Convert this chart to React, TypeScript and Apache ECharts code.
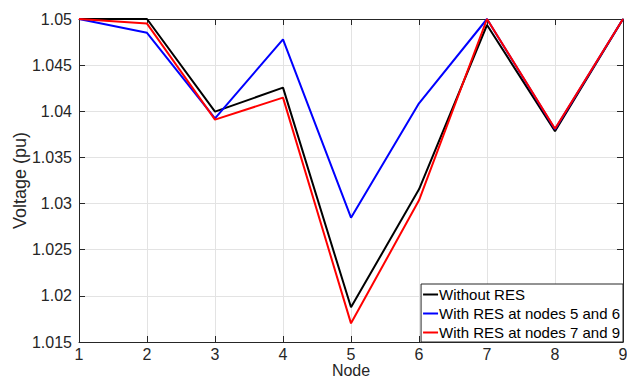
import React, { useEffect, useRef } from "react";
import * as echarts from "echarts";

const nodes = [1, 2, 3, 4, 5, 6, 7, 8, 9];
const withoutRES = [1.05, 1.05, 1.03996, 1.04256, 1.01876, 1.03155, 1.04935, 1.03785, 1.05];
const resAt5and6 = [1.05, 1.0485, 1.03924, 1.0478, 1.02847, 1.04086, 1.05, 1.03805, 1.05];
const resAt7and9 = [1.05, 1.0495, 1.0391, 1.04148, 1.01702, 1.03035, 1.05, 1.0381, 1.05];
const seriesNames = ["Without RES", "With RES at nodes 5 and 6", "With RES at nodes 7 and 9"];
const seriesColors = ["#000000", "#0000ff", "#ff0000"];
const yTicks = { min: 1.015, max: 1.05, step: 0.005 };

const FONT = "Liberation Sans, Arial, sans-serif";
const TXT = "#262626";

export default function App() {
  const ref = useRef<HTMLDivElement>(null);
  useEffect(() => {
    if (!ref.current) return;
    const chart = echarts.init(ref.current, undefined, { renderer: "svg" });
    const allData = [withoutRES, resAt5and6, resAt7and9];
    const fmt = (v: number) => parseFloat(v.toFixed(3)).toString();
    const axisCommon = {
      axisLine: { show: true, onZero: false, lineStyle: { color: TXT, width: 1 } },
      axisTick: { show: true, inside: true, length: 6, lineStyle: { color: TXT } },
    };
    chart.setOption({
      animation: false,
      backgroundColor: "#ffffff",
      grid: { left: 79, right: 4, top: 19, bottom: 37, containLabel: false, outerBoundsMode: "none" },
      xAxis: [
        {
          type: "value",
          min: 1,
          max: 9,
          interval: 1,
          position: "bottom",
          ...axisCommon,
          axisLabel: { color: TXT, fontSize: 16, lineHeight: 16, fontFamily: FONT, margin: 4 },
          splitLine: { show: true, lineStyle: { color: "#e3e3e3", width: 1 } },
          name: "Node",
          nameLocation: "middle",
          nameGap: 20,
          nameMoveOverlap: false,
          nameTextStyle: { color: TXT, fontSize: 16, lineHeight: 16, fontFamily: FONT },
        },
        {
          type: "value",
          min: 1,
          max: 9,
          interval: 1,
          position: "top",
          ...axisCommon,
          axisLabel: { show: false },
          splitLine: { show: false },
        },
      ],
      yAxis: [
        {
          type: "value",
          min: yTicks.min,
          max: yTicks.max,
          interval: yTicks.step,
          position: "left",
          ...axisCommon,
          axisLabel: { color: TXT, fontSize: 16, fontFamily: FONT, margin: 7, formatter: fmt },
          splitLine: { show: true, lineStyle: { color: "#e3e3e3", width: 1 } },
          name: "Voltage (pu)",
          nameLocation: "middle",
          nameGap: 50,
          nameMoveOverlap: false,
          nameTextStyle: { color: TXT, fontSize: 18, fontFamily: FONT },
        },
        {
          type: "value",
          min: yTicks.min,
          max: yTicks.max,
          interval: yTicks.step,
          position: "right",
          ...axisCommon,
          axisLabel: { show: false },
          splitLine: { show: false },
        },
      ],
      legend: {
        orient: "vertical",
        right: 4,
        bottom: 37,
        backgroundColor: "#ffffff",
        borderColor: TXT,
        borderWidth: 1,
        borderRadius: 0,
        padding: [2, 3, 1, 2],
        itemGap: 2,
        itemWidth: 15,
        itemHeight: 2,
        icon: "rect",
        selectedMode: false,
        textStyle: { color: "#000", fontSize: 15, fontFamily: FONT, lineHeight: 17, padding: [0, 0, 0, -4] },
        data: seriesNames,
      },
      series: seriesNames.map((name, i) => ({
        name,
        type: "line",
        symbol: "none",
        showSymbol: false,
        xAxisIndex: 0,
        yAxisIndex: 0,
        data: nodes.map((n, j) => [n, allData[i][j]]),
        lineStyle: { color: seriesColors[i], width: 2 },
        itemStyle: { color: seriesColors[i] },
        z: 2 + i,
      })),
    });
    return () => chart.dispose();
  }, []);
  return <div ref={ref} style={{ width: 627, height: 379, position: "absolute", left: 0, top: 0 }} />;
}
